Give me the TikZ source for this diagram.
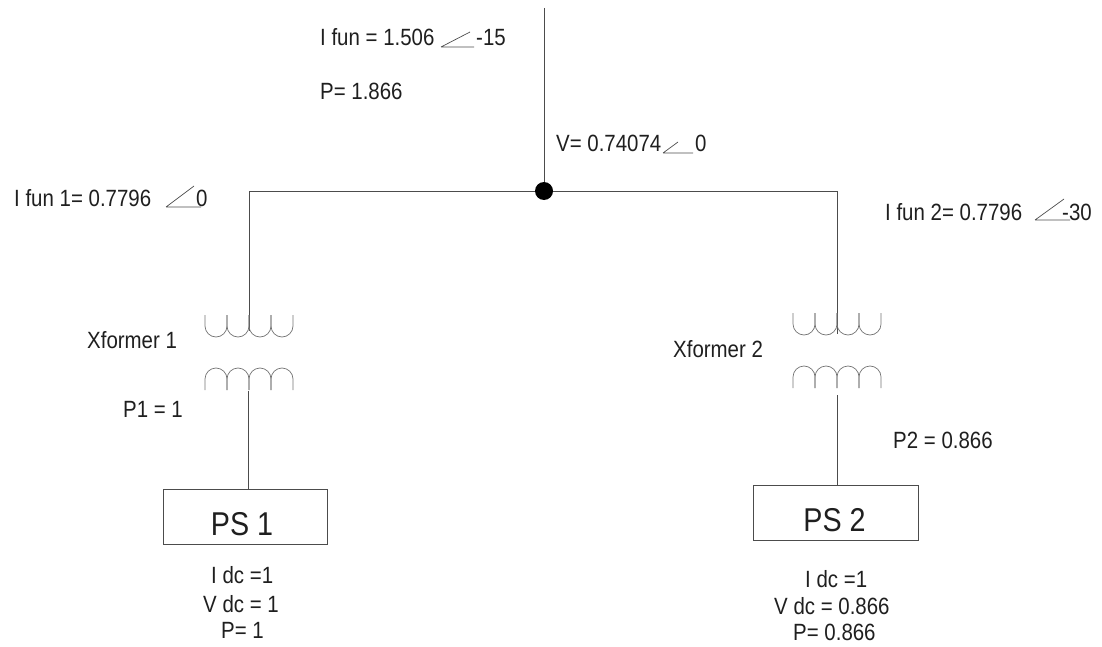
\documentclass[tikz,border=0pt]{standalone}
\usepackage{fontspec}
\setmainfont[FakeStretch=0.87]{Liberation Sans}
\definecolor{wire}{gray}{0.3}
\tikzset{
  x=1pt,y=-1pt,
  lbl/.style={font=\fontsize{23.5}{28}\selectfont,inner sep=0pt,anchor=base west,text=black!88},
  wirel/.style={draw=wire,line width=0.8pt},
  coil/.style={draw=black!55,line width=0.7pt},
  psbox/.style={draw=wire,line width=0.8pt,fill=white,inner sep=0pt},
  pstext/.style={font=\fontsize{33}{40}\selectfont,inner sep=0pt,anchor=base,text=black!88},
  angl/.style={draw=black!70,line width=0.7pt},
  bus/.style={circle,fill=black,inner sep=0pt,minimum size=18pt}
}
\newcommand{\coilup}[2]{\path[coil] (#1,#2) -- ++(0,11) arc[start angle=180,end angle=0,radius=11] -- ++(0,-11);}
\newcommand{\coildn}[2]{\path[coil] (#1,#2) -- ++(0,-11) arc[start angle=180,end angle=360,radius=11] -- ++(0,11);}
\begin{document}
\begin{tikzpicture}
\useasboundingbox (0,0) rectangle (1102,647);
\node[bus] (j) at (544,191) {};
\coordinate (top) at (544,8);
\coordinate (c1) at (249,191);
\coordinate (c2) at (837,191);
\coordinate (x1t) at (249,331);
\coordinate (x1b) at (248,391);
\coordinate (x2t) at (837,334);
\coordinate (x2b) at (837,395);
\node[psbox,minimum width=164pt,minimum height=55pt] (ps1) at (245,516.5) {};
\node[psbox,minimum width=165pt,minimum height=55pt] (ps2) at (835.5,512.5) {};
\node[pstext] (ps1t) at (242,535) {PS 1};
\node[pstext] (ps2t) at (834.5,531) {PS 2};
\draw[wirel] (top) -- (j);
\draw[wirel] (j) -- (c1) -- (x1t);
\draw[wirel] (j) -- (c2) -- (x2t);
\draw[wirel] (x1b) -- (ps1.north -| x1b);
\draw[wirel] (x2b) -- (ps2.north -| x2b);
\foreach \a in {205,227,249,271} {\coilup{\a}{315}\coildn{\a}{390}}
\foreach \a in {793,815,837,859} {\coilup{\a}{313}\coildn{\a}{388}}
\node[lbl] (ifun) at (320,46) {I fun = 1.506};
\draw[angl] (441,47) -- (474,47) (441,47) -- (470,32);
\node[lbl] (ifunang) at (476,46) {-15};
\node[lbl] (p) at (320,100) {P= 1.866};
\node[lbl] (v) at (556,152) {V= 0.74074};
\draw[angl] (663,153) -- (693,153) (663,153) -- (678,142);
\node[lbl] (vang) at (695,152) {0};
\node[lbl] (i1) at (14,207) {I fun 1= 0.7796};
\draw[angl] (166,207) -- (201,207) (166,207) -- (194,186);
\node[lbl] (i1ang) at (196,207) {0};
\node[lbl] (i2) at (885,220) {I fun 2= 0.7796};
\draw[angl] (1035,220) -- (1070,220) (1035,220) -- (1064,199);
\node[lbl] (i2ang) at (1062,220) {-30};
\node[lbl] (x1) at (87,348) {Xformer 1};
\node[lbl] (x2) at (673,357) {Xformer 2};
\node[lbl] (p1) at (123,417) {P1 = 1};
\node[lbl] (p2) at (893,448) {P2 = 0.866};
\node[lbl] (a1) at (211,583) {I dc =1};
\node[lbl] (a2) at (203,612) {V dc = 1};
\node[lbl] (a3) at (221,638) {P= 1};
\node[lbl] (b1) at (805,587) {I dc =1};
\node[lbl] (b2) at (774,614) {V dc = 0.866};
\node[lbl] (b3) at (793,640) {P= 0.866};
\end{tikzpicture}
\end{document}
